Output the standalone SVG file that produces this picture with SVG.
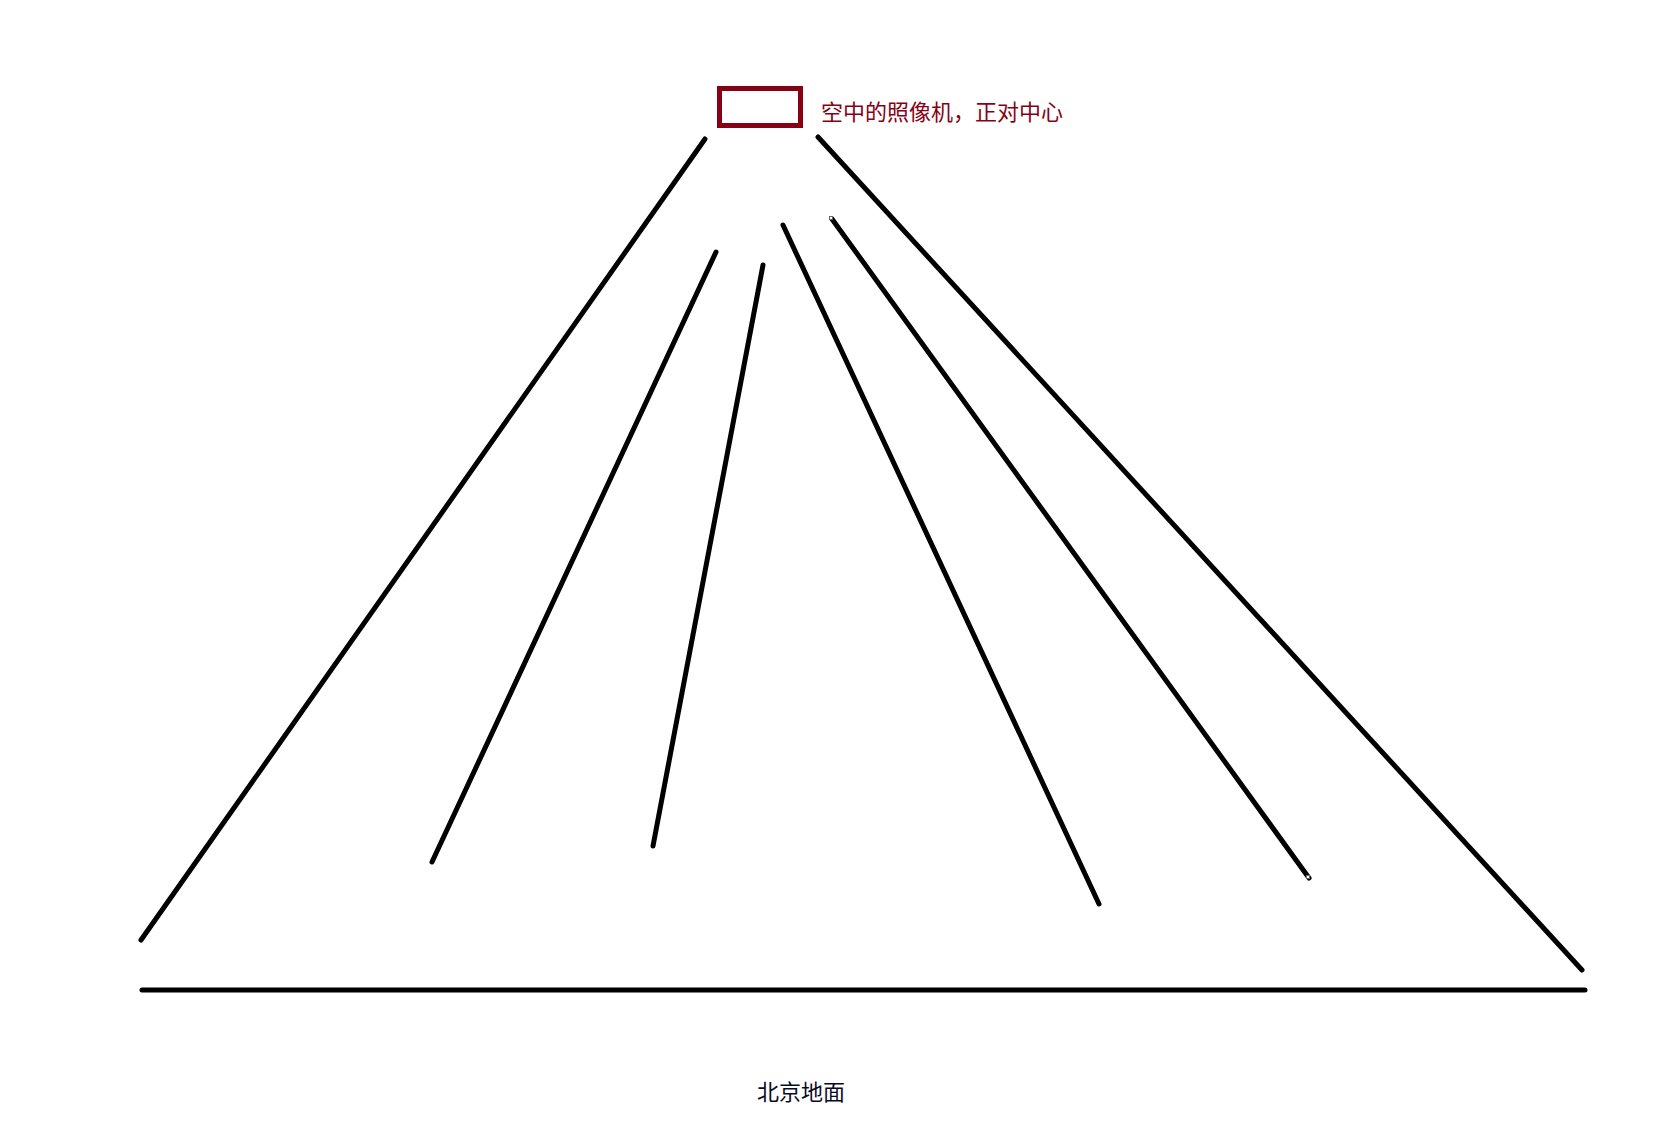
<svg xmlns="http://www.w3.org/2000/svg" width="1667" height="1136" viewBox="0 0 1667 1136">
<style>
.ray{stroke:#000;stroke-width:5;stroke-linecap:round;fill:none}
.cam{fill:#fff;stroke:#880015;stroke-width:5}
.lbl{font-family:"Noto Sans CJK SC","Liberation Sans",sans-serif;font-size:22px}
.h{fill:#fff;stroke:#666;stroke-width:1}
</style>
<rect width="1667" height="1136" fill="#fff"/>
<g id="camera">
<rect class="cam" x="719.5" y="88.5" width="81" height="37"/>
<text class="lbl" x="821" y="120" fill="#880015">空中的照像机，正对中心</text>
</g>
<g id="connectors">
<line class="ray" x1="705" y1="139" x2="141" y2="940"/>
<line class="ray" x1="716" y1="252" x2="432" y2="862"/>
<line class="ray" x1="763" y1="265" x2="653" y2="846"/>
<line class="ray" x1="783" y1="225" x2="1099" y2="904"/>
<line class="ray" x1="832" y1="219" x2="1309" y2="878"/>
<line class="ray" x1="818" y1="137" x2="1582" y2="970"/>
<line class="ray" x1="142" y1="990" x2="1585" y2="990"/>
<rect class="h" x="829.5" y="216.5" width="3" height="3"/>
<rect class="h" x="1306.5" y="875.5" width="3" height="3"/>
</g>
<g id="ground">
<text class="lbl" x="757" y="1100" fill="#0a0a1e">北京地面</text>
</g>
</svg>
